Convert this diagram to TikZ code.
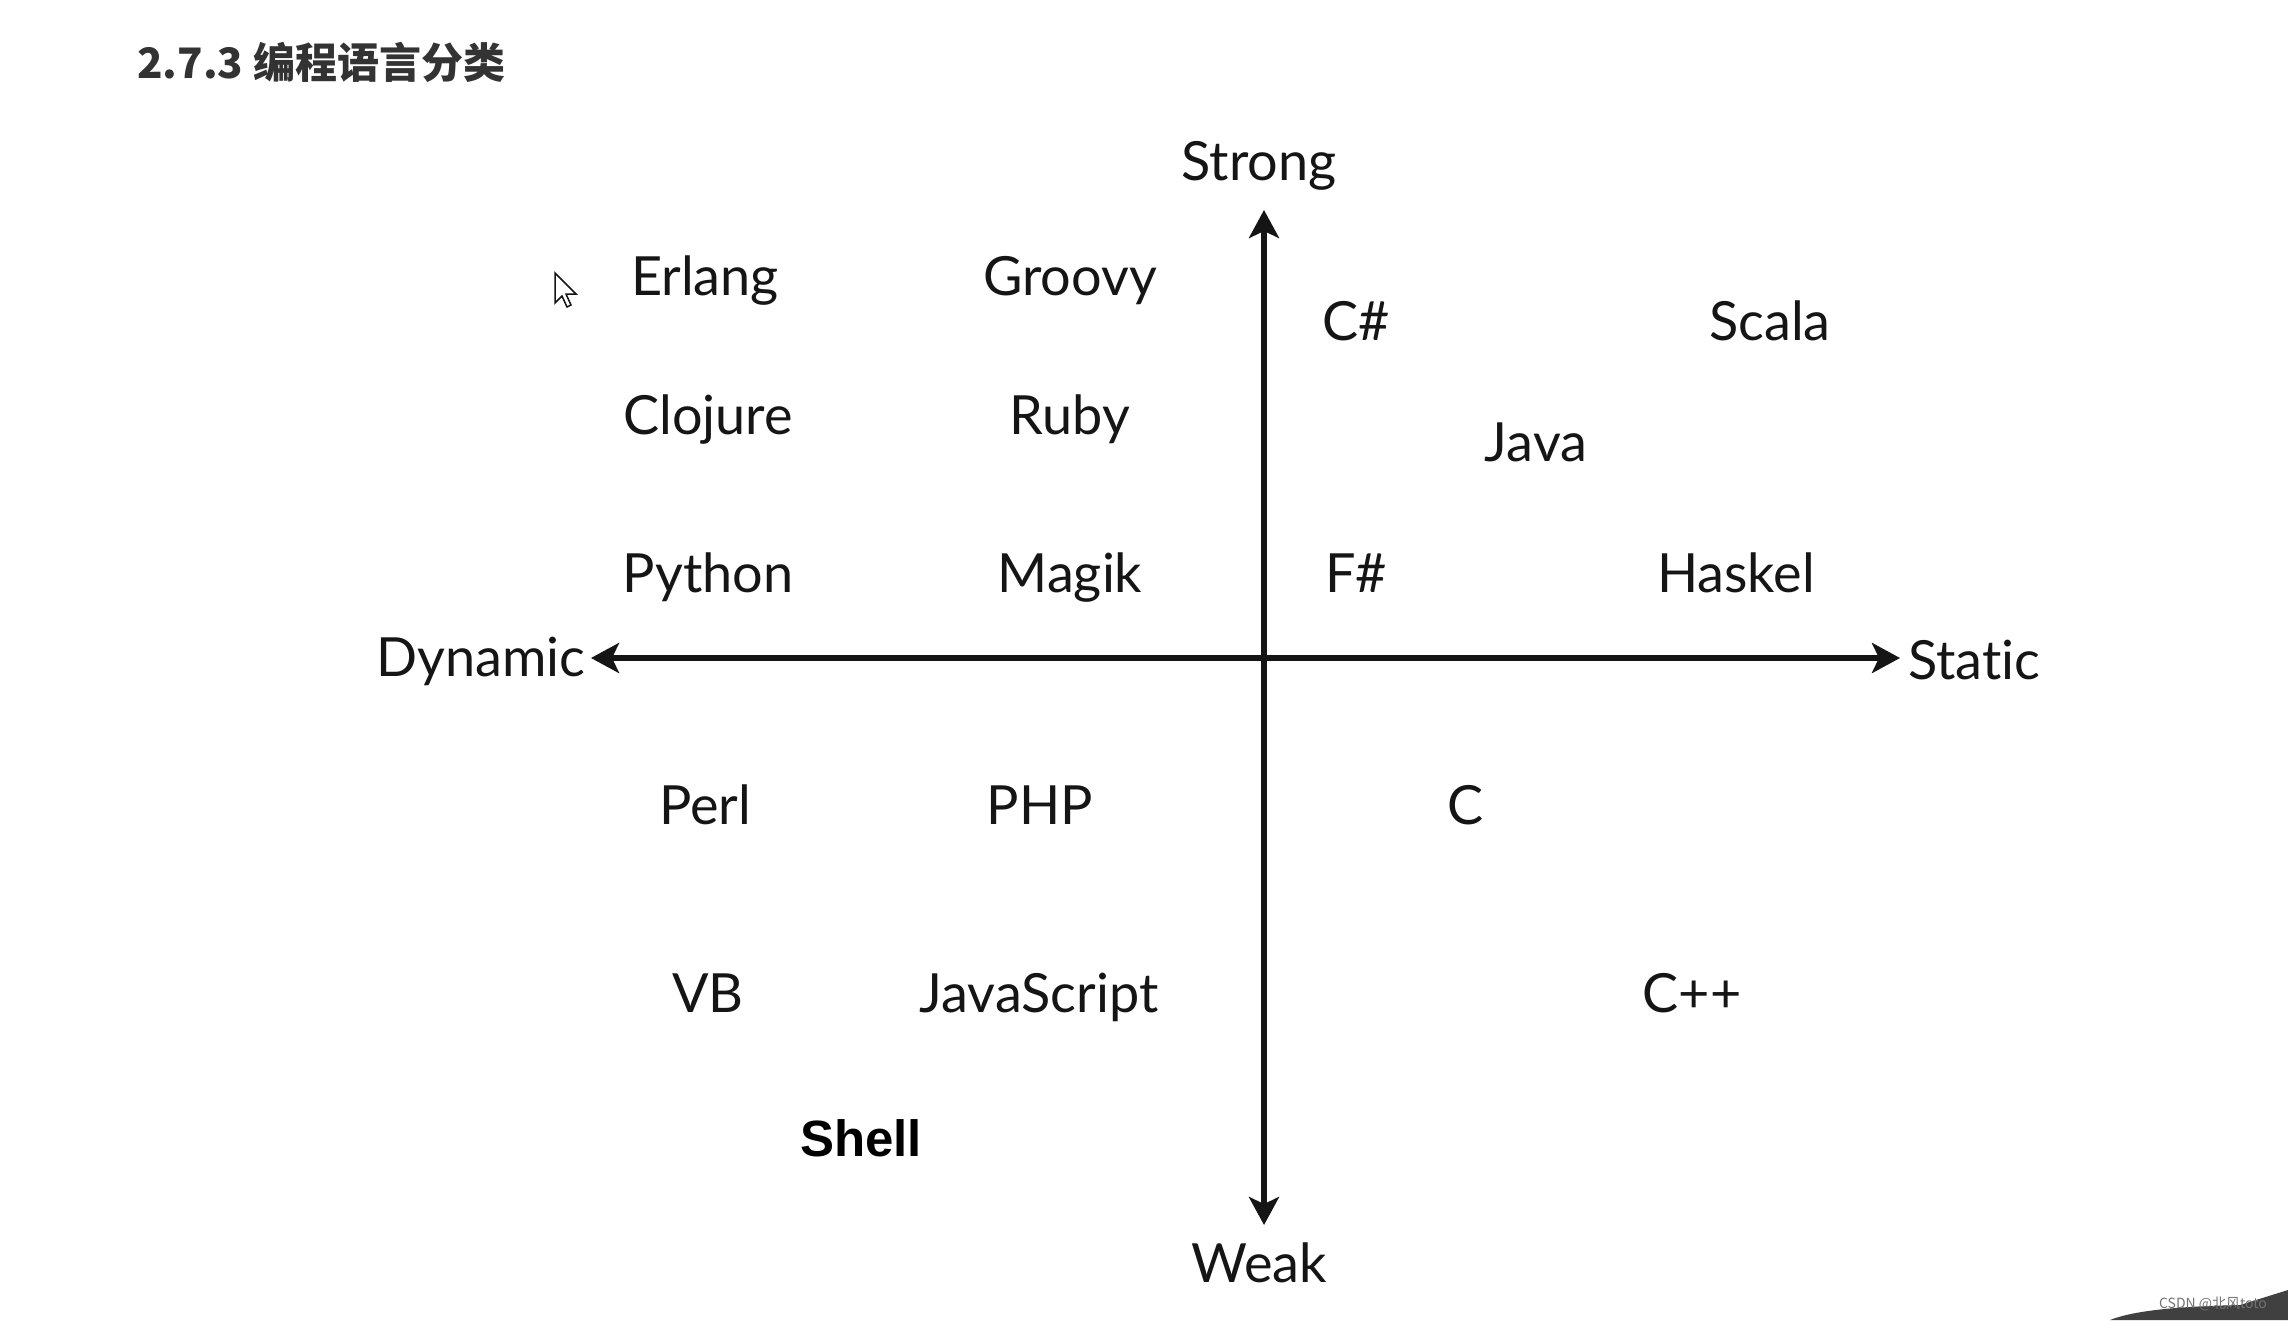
\documentclass[tikz,border=0pt]{standalone}
\usepackage{fontspec}
\setmainfont{Lato}[Ligatures=NoCommon]
\newfontfamily\cjk{Noto Sans CJK SC}
\newfontfamily\shellfont{Liberation Sans}
\usetikzlibrary{arrows.meta}
\definecolor{titlegray}{HTML}{333333}
\definecolor{txt}{HTML}{151515}
\tikzset{
  lang/.style={font=\fontsize{54}{60}\selectfont, text=txt, inner sep=0pt, anchor=base},
  axislabel/.style={lang},
  axis/.style={line width=5.5pt, draw=txt, {Stealth[length=28pt,width=30pt,inset=7pt]}-{Stealth[length=28pt,width=30pt,inset=7pt]}},
}
\begin{document}
\begin{tikzpicture}[x=1pt,y=-1pt]
\useasboundingbox[fill=white] (0,0) rectangle (2288,1320);
% title
\node[font=\cjk\bfseries\fontsize{42}{48}\selectfont, text=titlegray, anchor=west, inner sep=0pt] (title) at (137,62) {2.7.3 编程语言分类};
% axes
\coordinate (top) at (1264,210);
\coordinate (bottom) at (1264,1225);
\coordinate (left) at (591,658);
\coordinate (right) at (1900,658);
\draw[axis] (top) -- (bottom);
\draw[axis] (left) -- (right);
% axis labels (baselines)
\node[axislabel] (strong) at (1259,180) {Strong};
\node[axislabel] (weak) at (1259,1282) {Weak};
\node[axislabel] (dynamic) at (481,676) {Dynamic};
\node[axislabel] (static) at (1974,679) {Static};
% languages
\node[lang] (erlang) at (705,295) {Erlang};
\node[lang] (groovy) at (1070,295) {Groovy};
\node[lang] (csharp) at (1356,340) {C\#};
\node[lang] (scala) at (1770,340) {Scala};
\node[lang] (clojure) at (708,434) {Clojure};
\node[lang] (ruby) at (1070,434) {Ruby};
\node[lang] (java) at (1536,461) {Java};
\node[lang] (python) at (708,592) {Python};
\node[lang] (magik) at (1070,592) {Magik};
\node[lang] (fsharp) at (1356,592) {F\#};
\node[lang] (haskel) at (1736,592) {Haskel};
\node[lang] (perl) at (705,824) {Perl};
\node[lang] (php) at (1040,824) {PHP};
\node[lang] (c) at (1466,824) {C};
\node[lang] (vb) at (708,1012) {VB};
\node[lang] (js) at (1039,1012) {JavaScript};
\node[lang] (cpp) at (1692,1012) {C++};
\node[font=\shellfont\bfseries\fontsize{51}{57}\selectfont, text=black, inner sep=0pt, anchor=base] (shell) at (861,1156) {Shell};
% mouse cursor
\draw[line width=1.5pt, fill=white, draw=txt] (555,273) -- (555,303) -- (562,296) -- (567,307) -- (571,305) -- (566,294) -- (576,294) -- cycle;
% bottom-right corner artifacts
\fill[black!75] (2110,1320) .. controls (2140,1308) and (2200,1306) .. (2240,1305) -- (2288,1290) -- (2288,1320) -- cycle;
\node[font=\cjk\fontsize{14}{16}\selectfont, text=black!55, inner sep=0pt] (wm) at (2213,1304) {CSDN @北风toto};
\end{tikzpicture}
\end{document}
